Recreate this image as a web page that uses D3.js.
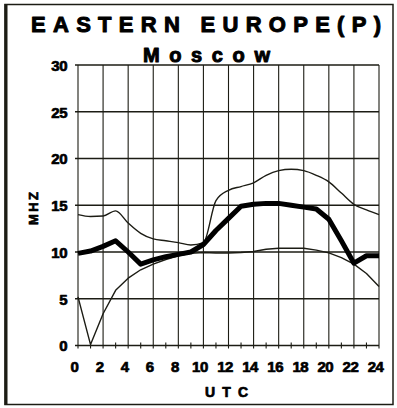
<!DOCTYPE html>
<html><head><meta charset="utf-8">
<script src="https://cdn.jsdelivr.net/npm/d3@7"></script>
<style>body{margin:0;background:#fff}svg{display:block}</style>
</head><body>
<script>
const title = "EASTERN EUROPE(P)";
const subtitle = "Moscow";
const hours = d3.range(0, 25);
const upper  = [14.0,13.8,13.85,14.4,13.1,12.0,11.4,11.2,11.0,10.75,11.0,15.5,16.6,17.0,17.4,18.2,18.7,18.85,18.7,18.2,17.5,16.3,15.1,14.5,14.0];
const median = [9.85,10.1,10.6,11.2,10.0,8.7,9.15,9.5,9.75,10.0,10.8,12.3,13.6,14.9,15.1,15.2,15.2,15.0,14.8,14.6,13.5,11.2,8.8,9.6,9.6];
const lower  = [5.2,0.1,3.4,5.9,7.2,8.1,8.7,9.2,9.6,9.85,9.95,9.9,9.9,9.95,10.05,10.3,10.4,10.4,10.4,10.2,9.9,9.4,8.7,7.7,6.3];
const xTicks = d3.range(0, 25, 2);
const yTicks = [0,5,10,15,20,25,30];

const W = 397, H = 408;
const ink = "#1c1c14";
const ff = "'Liberation Sans', Arial, sans-serif";
const svg = d3.select("body").append("svg").attr("width", W).attr("height", H);

function heavy(sel, sw) {
  return sel.attr("font-family", ff).attr("font-weight", "bold").attr("fill", "#000")
    .attr("stroke", "#000").attr("stroke-width", sw).attr("stroke-linejoin", "round");
}

// outer frame
svg.append("rect").attr("x",5).attr("y",4.5).attr("width",388).attr("height",400)
  .attr("fill","none").attr("stroke",ink).attr("stroke-width",1.5);
svg.append("line").attr("x1",6).attr("x2",6).attr("y1",4).attr("y2",405)
  .attr("stroke",ink).attr("stroke-width",3);

const x = d3.scaleLinear().domain([0,24]).range([78,379]);
const y = d3.scaleLinear().domain([0,30]).range([345.5,65]);

// grid
const g = svg.append("g");
g.selectAll("line.v").data(xTicks).join("line")
  .attr("x1",d=>x(d)).attr("x2",d=>x(d)).attr("y1",y(30)).attr("y2",y(0)+3)
  .attr("stroke",ink).attr("stroke-width",1.1);
g.selectAll("line.h").data(yTicks).join("line")
  .attr("x1",x(0)-3).attr("x2",x(24)).attr("y1",d=>y(d)).attr("y2",d=>y(d))
  .attr("stroke",ink).attr("stroke-width",1.3);
g.selectAll("line.m").data(d3.range(1,24,2)).join("line")
  .attr("x1",d=>x(d)).attr("x2",d=>x(d)).attr("y1",y(0)-3).attr("y2",y(0)+3)
  .attr("stroke",ink).attr("stroke-width",1.1);

// axes labels
const yAxis = d3.axisLeft(y).tickValues(yTicks).tickSize(0).tickPadding(0);
const ya = svg.append("g").attr("transform",`translate(${x(0)-11},0)`).call(yAxis);
ya.select(".domain").remove();
heavy(ya.selectAll("text"), 0.7).attr("font-size",15).attr("dy","0.35em").attr("letter-spacing",-0.5);

const xAxis = d3.axisBottom(x).tickValues(xTicks).tickSize(0).tickPadding(0);
const xa = svg.append("g").attr("transform",`translate(-4,${y(0)+22})`).call(xAxis);
xa.select(".domain").remove();
heavy(xa.selectAll("text"), 0.7).attr("font-size",15).attr("dy","0.3em").attr("letter-spacing",-0.5);

// lines
const smooth = d3.line().x((d,i)=>x(hours[i])).y(d=>y(d)).curve(d3.curveMonotoneX);
const straight = d3.line().x((d,i)=>x(hours[i])).y(d=>y(d));
svg.append("path").datum(upper).attr("d",smooth).attr("fill","none").attr("stroke",ink).attr("stroke-width",1.4);
svg.append("path").datum(lower).attr("d",straight).attr("fill","none").attr("stroke",ink).attr("stroke-width",1.4).attr("stroke-linejoin","round");
svg.append("path").datum(median).attr("d",straight)
  .attr("fill","none").attr("stroke","#000").attr("stroke-width",5).attr("stroke-linejoin","round");

// titles
heavy(svg.append("text"), 1).attr("x",31).attr("y",32).attr("textLength",350).attr("lengthAdjust","spacing")
  .attr("font-size",22).text(title);
heavy(svg.append("text"), 1).attr("x",143).attr("y",62).attr("textLength",127).attr("lengthAdjust","spacing")
  .attr("font-size",20).text(subtitle);
heavy(svg.append("text"), 0.7).attr("x",205).attr("y",397).attr("textLength",43).attr("lengthAdjust","spacing")
  .attr("font-size",14).text("UTC");
heavy(svg.append("text"), 0.7).attr("transform","translate(38,225) rotate(-90)").attr("textLength",33).attr("lengthAdjust","spacing")
  .attr("font-size",13).text("MHZ");
</script>
</body></html>
